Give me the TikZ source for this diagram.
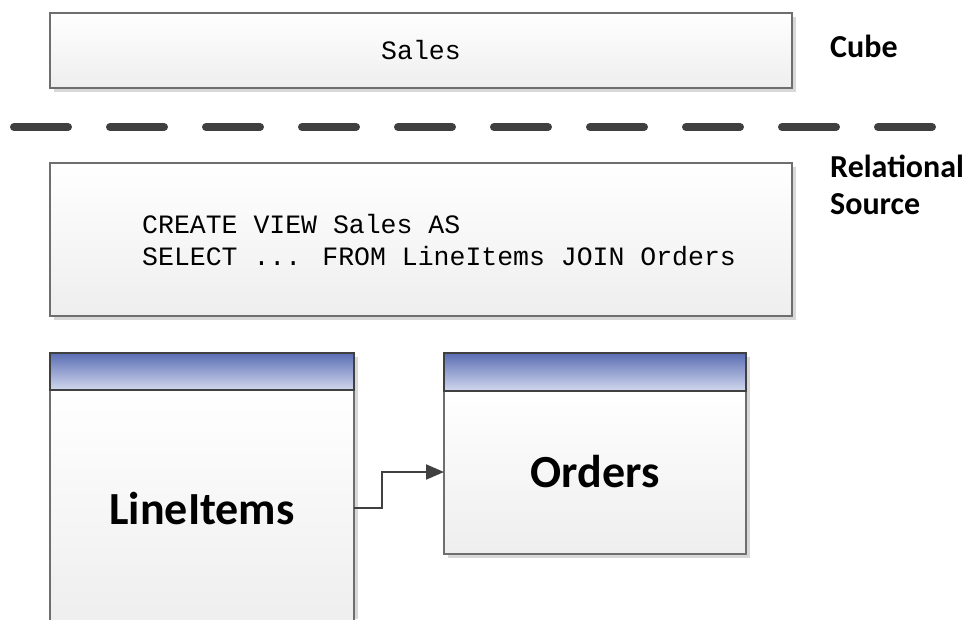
\documentclass[tikz,border=0pt]{standalone}
\usepackage{fontspec}
\setmainfont{Carlito}
\newfontfamily\codefont{Liberation Mono}
\usetikzlibrary{arrows.meta}
\definecolor{hdrtop}{HTML}{5A6DB3}
\definecolor{hdrbot}{HTML}{D2D8EE}
\definecolor{bodybot}{HTML}{EEEEEE}
\definecolor{edge}{HTML}{6E6E6E}
\definecolor{dark}{HTML}{404040}
\definecolor{shade}{HTML}{D8D8D8}
\tikzset{
  panel/.style={draw=edge, line width=1.2pt, top color=white, bottom color=bodybot, inner sep=0pt},
  hdr/.style={draw=dark, line width=1.2pt, top color=hdrtop, bottom color=hdrbot, inner sep=0pt},
  shadowbox/.style={fill=shade, draw=none},
  codetxt/.style={font=\codefont\fontsize{26.5}{32}\selectfont, text=black, align=left, inner sep=0pt},
  tabletxt/.style={font=\bfseries\fontsize{46}{50}\selectfont, text=black, inner sep=0pt},
  lbl/.style={font=\bfseries\fontsize{32}{37}\selectfont, text=black, align=left, anchor=base west, inner sep=0pt},
  sep/.style={draw=dark, line width=8pt, line cap=round, dash pattern=on 54pt off 42pt},
  link/.style={draw=dark, line width=2pt, -{Triangle[length=18pt,width=15pt]}}
}
\begin{document}
\begin{tikzpicture}[x=1pt,y=-1pt]
\useasboundingbox (0,0) rectangle (969,619);
% Cube box
\fill[shadowbox] (54,17) rectangle (796,92);
\path[panel] (50,13) rectangle (792,88);
\node[codetxt] (sales) at (421,50) {Sales};
% separator
\coordinate (sepL) at (14,127);
\coordinate (sepR) at (940,127);
\draw[sep] (sepL) -- (sepR);
% relational box
\fill[shadowbox] (54,167) rectangle (796,320);
\path[panel] (50,163) rectangle (792,316);
\node[codetxt, anchor=west] (view) at (142,240) {CREATE VIEW Sales AS\\SELECT ... FROM LineItems JOIN Orders};
% labels
\node[lbl] (cube) at (830,57) {Cube};
\node[lbl] (rel) at (830,214) {Relational\\Source};
% LineItems table
\fill[shadowbox] (54,357) rectangle (358,619);
\path[panel] (50,390) rectangle (354,625);
\path[hdr] (50,353) rectangle (354,390);
\node[tabletxt] (li) at (202,509) {LineItems};
\coordinate (liR) at (354,508);
% Orders table
\fill[shadowbox] (448,357) rectangle (750,558);
\path[panel] (444,391) rectangle (746,554);
\path[hdr] (444,353) rectangle (746,391);
\node[tabletxt] (ord) at (595,472) {Orders};
\coordinate (ordL) at (444,472);
% connector
\draw[link] (liR) -- (382,508) -- (382,472) -- (ordL);
\end{tikzpicture}
\end{document}
